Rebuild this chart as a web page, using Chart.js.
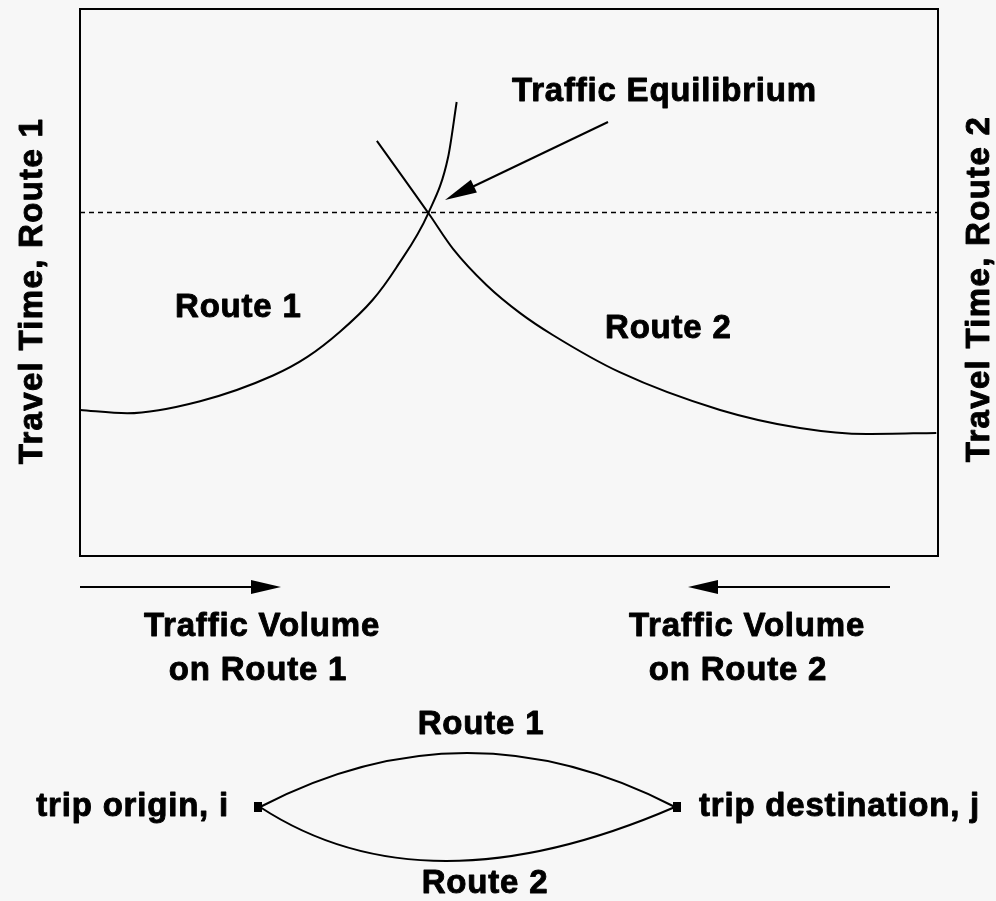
<!DOCTYPE html>
<html>
<head>
<meta charset="utf-8">
<script src="https://cdn.jsdelivr.net/npm/chart.js@4/dist/chart.umd.min.js"></script>
<style>
    html, body {
        margin: 0;
        padding: 0;
        background: #f7f7f7;
        overflow: hidden;
    }
    #wrap {
        position: relative;
        width: 996px;
        height: 901px;
    }
</style>
</head>
<body>
<div id="wrap">
    <canvas id="equilibriumChart"></canvas>
</div>
<script>

// traffic volume (0 = left edge, 100 = right edge) and travel time
const route1Volume = [0, 5.5, 14.0, 22.5, 26.5, 30.3, 34.1, 36.9, 40.6, 42.9, 43.9];
const route1Time = [26.7, 26.1, 28.3, 33.0, 36.4, 41.0, 46.8, 52.8, 62.7, 72.9, 83.0];

const route2Volume = [34.6, 40.6, 43.5, 47.4, 51.3, 55.1, 62.9, 74.6, 83.9, 91.7, 99.8];
const route2Time = [75.9, 62.7, 56.1, 49.5, 44.4, 40.4, 33.6, 26.7, 23.4, 22.3, 22.5];

const equilibriumVolume = [0, 100];
const equilibriumTime = [62.8, 62.8];

const FONT = "bold 33px 'Liberation Sans', Arial, sans-serif";
const INK = "#000";

function toPoints(xs, ys) {
    return xs.map((x, i) => ({ x: x, y: ys[i] }));
}

function arrowHead(ctx, tipX, tipY, fromX, fromY, len, half) {
    const ang = Math.atan2(tipY - fromY, tipX - fromX);
    const bx = tipX - Math.cos(ang) * len;
    const by = tipY - Math.sin(ang) * len;
    ctx.beginPath();
    ctx.moveTo(tipX, tipY);
    ctx.lineTo(bx + Math.sin(ang) * half, by - Math.cos(ang) * half);
    ctx.lineTo(bx - Math.sin(ang) * half, by + Math.cos(ang) * half);
    ctx.closePath();
    ctx.fill();
}

function text(ctx, str, x, y, align) {
    ctx.textAlign = align || "left";
    ctx.fillText(str, x, y);
    ctx.strokeText(str, x, y);
}

// frame, labels, arrows and the little route network under the plot
const decorations = {
    id: "decorations",
    afterDraw(chart) {

        const ctx = chart.ctx;
        const area = chart.chartArea;

        ctx.save();
        ctx.strokeStyle = INK;
        ctx.fillStyle = INK;
        ctx.lineWidth = 2;
        ctx.strokeRect(area.left, area.top, area.right - area.left, area.bottom - area.top);

        ctx.font = FONT;
        ctx.letterSpacing = "0.8px";
        ctx.textBaseline = "alphabetic";
        ctx.lineWidth = 0.9;
        ctx.lineJoin = "round";

        text(ctx, "Traffic Equilibrium", 512, 101);
        text(ctx, "Route 1", 175, 317);
        text(ctx, "Route 2", 605, 338);

        text(ctx, "Traffic Volume", 262, 636, "center");
        text(ctx, "on Route 1", 258, 680, "center");
        text(ctx, "Traffic Volume", 747, 636, "center");
        text(ctx, "on Route 2", 738, 680, "center");

        text(ctx, "Route 1", 481, 734, "center");
        text(ctx, "Route 2", 485, 893, "center");
        text(ctx, "trip origin, i", 229, 816, "right");
        text(ctx, "trip destination, j", 699, 816, "left");

        // y titles
        ctx.letterSpacing = "1.3px";
        ctx.save();
        ctx.translate(42, 291);
        ctx.rotate(-Math.PI / 2);
        text(ctx, "Travel Time, Route 1", 0, 0, "center");
        ctx.restore();

        ctx.save();
        ctx.translate(989, 289);
        ctx.rotate(-Math.PI / 2);
        text(ctx, "Travel Time, Route 2", 0, 0, "center");
        ctx.restore();

        // pointer to the crossing
        ctx.lineWidth = 2;
        ctx.beginPath();
        ctx.moveTo(608, 122);
        ctx.lineTo(470, 188);
        ctx.stroke();
        arrowHead(ctx, 445, 200, 608, 122, 32, 7);

        // volume direction arrows
        ctx.lineWidth = 1.8;
        ctx.beginPath();
        ctx.moveTo(80, 587);
        ctx.lineTo(255, 587);
        ctx.moveTo(890, 587);
        ctx.lineTo(715, 587);
        ctx.stroke();
        arrowHead(ctx, 281, 587, 80, 587, 30, 7);
        arrowHead(ctx, 688, 587, 890, 587, 30, 7);

        // route network
        ctx.lineWidth = 2;
        ctx.beginPath();
        ctx.moveTo(260, 807);
        ctx.quadraticCurveTo(467, 699, 675, 807);
        ctx.moveTo(260, 807);
        ctx.quadraticCurveTo(425, 915, 675, 807);
        ctx.stroke();
        ctx.fillRect(254, 802, 8, 10);
        ctx.fillRect(673, 802, 8, 10);

        ctx.restore();
    }
};

const ctx = document.getElementById("equilibriumChart");

new Chart(ctx, {
    type: "scatter",
    data: {
        datasets: [
            {
                label: "Equilibrium travel time",
                data: toPoints(equilibriumVolume, equilibriumTime),
                showLine: true,
                borderColor: INK,
                borderWidth: 1.5,
                borderDash: [5, 4],
                pointRadius: 0
            },
            {
                label: "Route 1",
                data: toPoints(route1Volume, route1Time),
                showLine: true,
                borderColor: INK,
                borderWidth: 2,
                cubicInterpolationMode: "monotone",
                pointRadius: 0
            },
            {
                label: "Route 2",
                data: toPoints(route2Volume, route2Time),
                showLine: true,
                borderColor: INK,
                borderWidth: 2,
                cubicInterpolationMode: "monotone",
                pointRadius: 0
            }
        ]
    },
    options: {
        responsive: true,
        maintainAspectRatio: false,
        animation: false,
        layout: {
            padding: { left: 80, top: 9, right: 58, bottom: 345 }
        },
        plugins: {
            legend: { display: false },
            tooltip: { enabled: false }
        },
        scales: {
            x: { type: "linear", min: 0, max: 100, display: false },
            y: { type: "linear", min: 0, max: 100, display: false }
        }
    },
    plugins: [decorations]
});

</script>
</body>
</html>
